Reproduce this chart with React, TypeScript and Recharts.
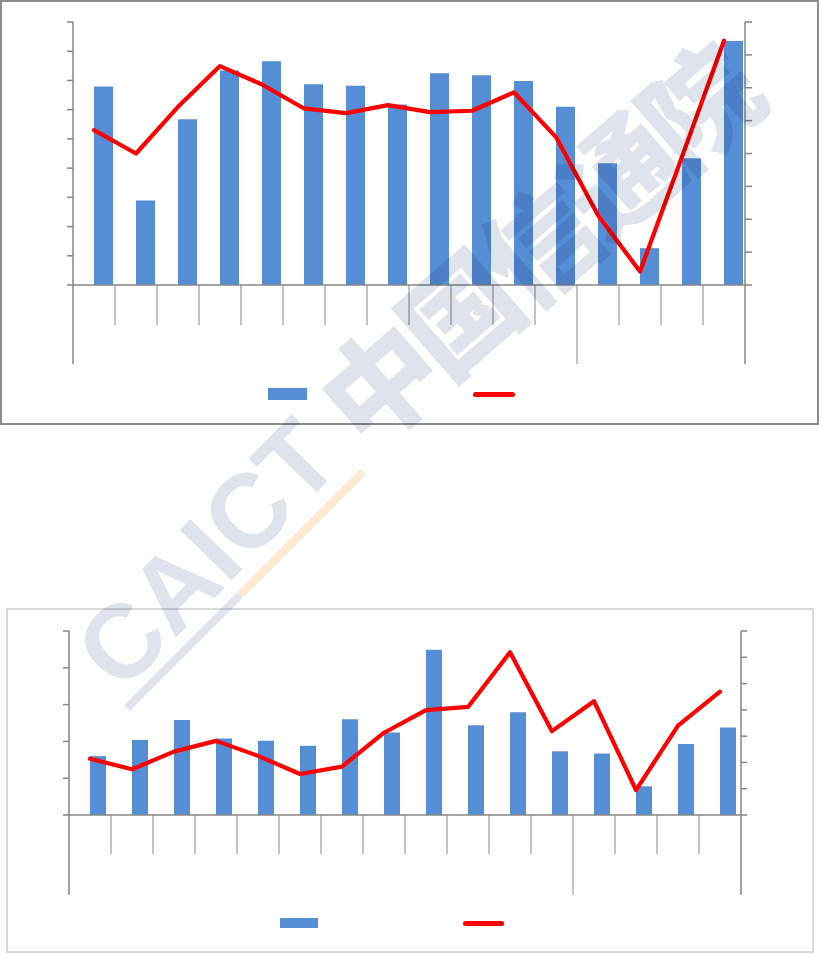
import React from 'react';
import { ComposedChart, Bar, Line, XAxis, YAxis, Legend } from 'recharts';

// ---- data ----
const categories = ['1', '2', '3', '4', '5', '6', '7', '8', '9', '10', '11', '12', '13', '14', '15', '16'];
const groupEndIndex = [11, 15];

const chart1Bars = [6.79, 2.89, 5.67, 7.34, 7.66, 6.87, 6.82, 6.18, 7.25, 7.18, 6.98, 6.1, 4.17, 1.26, 4.34, 8.35];
const chart1Line = [4.71, 4.0, 5.42, 6.66, 6.1, 5.37, 5.23, 5.47, 5.26, 5.3, 5.86, 4.5, 2.12, 0.41, 3.9, 7.43];
const chart1LeftTicks = [0, 1, 2, 3, 4, 5, 6, 7, 8, 9];
const chart1RightTicks = [0, 1, 2, 3, 4, 5, 6, 7, 8];

const chart2Bars = [1.6, 2.04, 2.58, 2.08, 2.02, 1.88, 2.6, 2.24, 4.49, 2.44, 2.79, 1.73, 1.67, 0.78, 1.93, 2.38];
const chart2Line = [2.14, 1.74, 2.41, 2.82, 2.25, 1.56, 1.84, 3.13, 3.99, 4.11, 6.19, 3.19, 4.33, 0.95, 3.4, 4.69];
const chart2LeftTicks = [0, 1, 2, 3, 4, 5];
const chart2RightTicks = [0, 1, 2, 3, 4, 5, 6, 7];

const data1 = categories.map((c, i) => ({ name: c, pad: null, bar: chart1Bars[i], line: chart1Line[i] }));
const data2 = categories.map((c, i) => ({ name: c, pad: null, bar: chart2Bars[i], line: chart2Line[i] }));

const AXIS = '#868686';
const BAR = '#558ED5';
const RED = '#FF0000';

const EmptyTick = () => <g />;

const makeXTick = (short: number, long: number) => (props: any) => {
  const { x, y, index, width, visibleTicksCount } = props;
  const bw = typeof width === 'number' && visibleTicksCount ? width / visibleTicksCount : 42;
  const right = x + bw / 2;
  const len = groupEndIndex.includes(index) ? long : short;
  return (
    <g>
      {index === 0 && (
        <line x1={x - bw / 2} x2={x - bw / 2} y1={y} y2={y + long} stroke={AXIS} strokeWidth={1.5} />
      )}
      <line x1={right} x2={right} y1={y} y2={y + len} stroke={AXIS} strokeWidth={index === 15 ? 1.5 : 1} />
    </g>
  );
};

const makeLegend = (barLeft: number, barTop: number, barW: number, barH: number, lineLeft: number, lineTop: number, lineW: number) => () => (
  <div style={{ position: 'relative', width: 819, height: 30 }}>
    <div style={{ position: 'absolute', left: barLeft, top: barTop, width: barW, height: barH, background: BAR }} />
    <div style={{ position: 'absolute', left: lineLeft, top: lineTop, width: lineW, height: 4.5, background: RED, borderRadius: 2.5 }} />
  </div>
);

const Chart1 = () => (
  <ComposedChart width={819} height={424} data={data1} margin={{ top: 22, right: 0, bottom: 59, left: 0 }} barGap={0}>
    <XAxis
      dataKey="name"
      xAxisId="x"
      height={80}
      interval={0}
      tickLine={false}
      tickSize={0}
      tickMargin={0}
      tick={makeXTick(40, 79)}
      axisLine={{ stroke: AXIS, strokeWidth: 1.5 }}
    />
    <YAxis
      yAxisId="left"
      orientation="left"
      width={73}
      domain={[0, 9]}
      ticks={chart1LeftTicks}
      interval={0}
      tick={EmptyTick}
      tickSize={6}
      tickLine={{ stroke: AXIS, strokeWidth: 1.5 }}
      axisLine={{ stroke: AXIS, strokeWidth: 1.5 }}
    />
    <YAxis
      yAxisId="right"
      orientation="right"
      width={74}
      domain={[0, 8]}
      ticks={chart1RightTicks}
      interval={0}
      tick={EmptyTick}
      tickSize={7}
      tickLine={{ stroke: AXIS, strokeWidth: 1.5 }}
      axisLine={{ stroke: AXIS, strokeWidth: 1.5 }}
    />
    <Legend
      verticalAlign="middle"
      align="center"
      layout="horizontal"
      wrapperStyle={{ position: 'absolute', left: 0, top: 380, width: 819, height: 30 }}
      content={makeLegend(268, 8, 39, 12, 473, 12, 42)}
    />
    <Bar dataKey="pad" xAxisId="x" yAxisId="left" barSize={19} fill={BAR} isAnimationActive={false} legendType="none" />
    <Bar dataKey="bar" xAxisId="x" yAxisId="left" barSize={19} fill={BAR} isAnimationActive={false} />
    <Line
      dataKey="line"
      xAxisId="x"
      yAxisId="right"
      type="linear"
      stroke={RED}
      strokeWidth={4.2}
      strokeLinejoin="round"
      strokeLinecap="round"
      dot={false}
      activeDot={false}
      isAnimationActive={false}
    />
  </ComposedChart>
);

const Chart2 = () => (
  <ComposedChart width={819} height={354} data={data2} margin={{ top: 31, right: 0, bottom: 59, left: 0 }} barGap={0}>
    <XAxis
      dataKey="name"
      xAxisId="x"
      height={80}
      interval={0}
      tickLine={false}
      tickSize={0}
      tickMargin={0}
      tick={makeXTick(39, 80)}
      axisLine={{ stroke: AXIS, strokeWidth: 1.5 }}
    />
    <YAxis
      yAxisId="left"
      orientation="left"
      width={69}
      domain={[0, 5]}
      ticks={chart2LeftTicks}
      interval={0}
      tick={EmptyTick}
      tickSize={6}
      tickLine={{ stroke: AXIS, strokeWidth: 1.5 }}
      axisLine={{ stroke: AXIS, strokeWidth: 1.5 }}
    />
    <YAxis
      yAxisId="right"
      orientation="right"
      width={78}
      domain={[0, 7]}
      ticks={chart2RightTicks}
      interval={0}
      tick={EmptyTick}
      tickSize={6}
      tickLine={{ stroke: AXIS, strokeWidth: 1.5 }}
      axisLine={{ stroke: AXIS, strokeWidth: 1.5 }}
    />
    <Legend
      verticalAlign="middle"
      align="center"
      layout="horizontal"
      wrapperStyle={{ position: 'absolute', left: 0, top: 310, width: 819, height: 30 }}
      content={makeLegend(280, 8, 38, 10, 463, 11, 41)}
    />
    <Bar dataKey="pad" xAxisId="x" yAxisId="left" barSize={16} fill={BAR} isAnimationActive={false} legendType="none" />
    <Bar dataKey="bar" xAxisId="x" yAxisId="left" barSize={16} fill={BAR} isAnimationActive={false} />
    <Line
      dataKey="line"
      xAxisId="x"
      yAxisId="right"
      type="linear"
      stroke={RED}
      strokeWidth={4.2}
      strokeLinejoin="round"
      strokeLinecap="round"
      dot={false}
      activeDot={false}
      isAnimationActive={false}
    />
  </ComposedChart>
);

const Watermark = () => (
  <svg
    width={819}
    height={954}
    style={{ position: 'absolute', left: 0, top: 0, pointerEvents: 'none', mixBlendMode: 'multiply' }}
  >
    <line x1={363} y1={472} x2={240} y2={595} stroke="#fde8d0" strokeWidth={8} />
    <line x1={240} y1={595} x2={127} y2={708} stroke="#dfe4ee" strokeWidth={8} />
    <text
      x={233}
      y={579}
      textAnchor="middle"
      fontFamily="'Liberation Sans', Arial, sans-serif"
      fontWeight="bold"
      fontSize={105}
      fill="#dfe3ec"
      transform="rotate(-46 233 579)"
    >
      CAICT
    </text>
    <text
      x={566}
      y={280}
      textAnchor="middle"
      fontFamily="'Noto Sans CJK SC', sans-serif"
      fontWeight={900}
      fontSize={114}
      letterSpacing={-8}
      fill="#dfe3ec"
      transform="rotate(-41 566 280)"
    >
      中国信通院
    </text>
  </svg>
);

export default function App() {
  return (
    <div style={{ position: 'absolute', left: 0, top: 0, width: 819, height: 954, background: '#fff', overflow: 'hidden' }}>
      <div style={{ position: 'absolute', left: 0, top: 0, width: 819, height: 425, border: '2px solid #8c8c8c', boxSizing: 'border-box' }} />
      <div style={{ position: 'absolute', left: 6, top: 608, width: 808, height: 345, border: '2px solid #d9d9d9', boxSizing: 'border-box' }} />
      <div style={{ position: 'absolute', left: 0, top: 0 }}>
        <Chart1 />
      </div>
      <div style={{ position: 'absolute', left: 0, top: 600 }}>
        <Chart2 />
      </div>
      <Watermark />
    </div>
  );
}
